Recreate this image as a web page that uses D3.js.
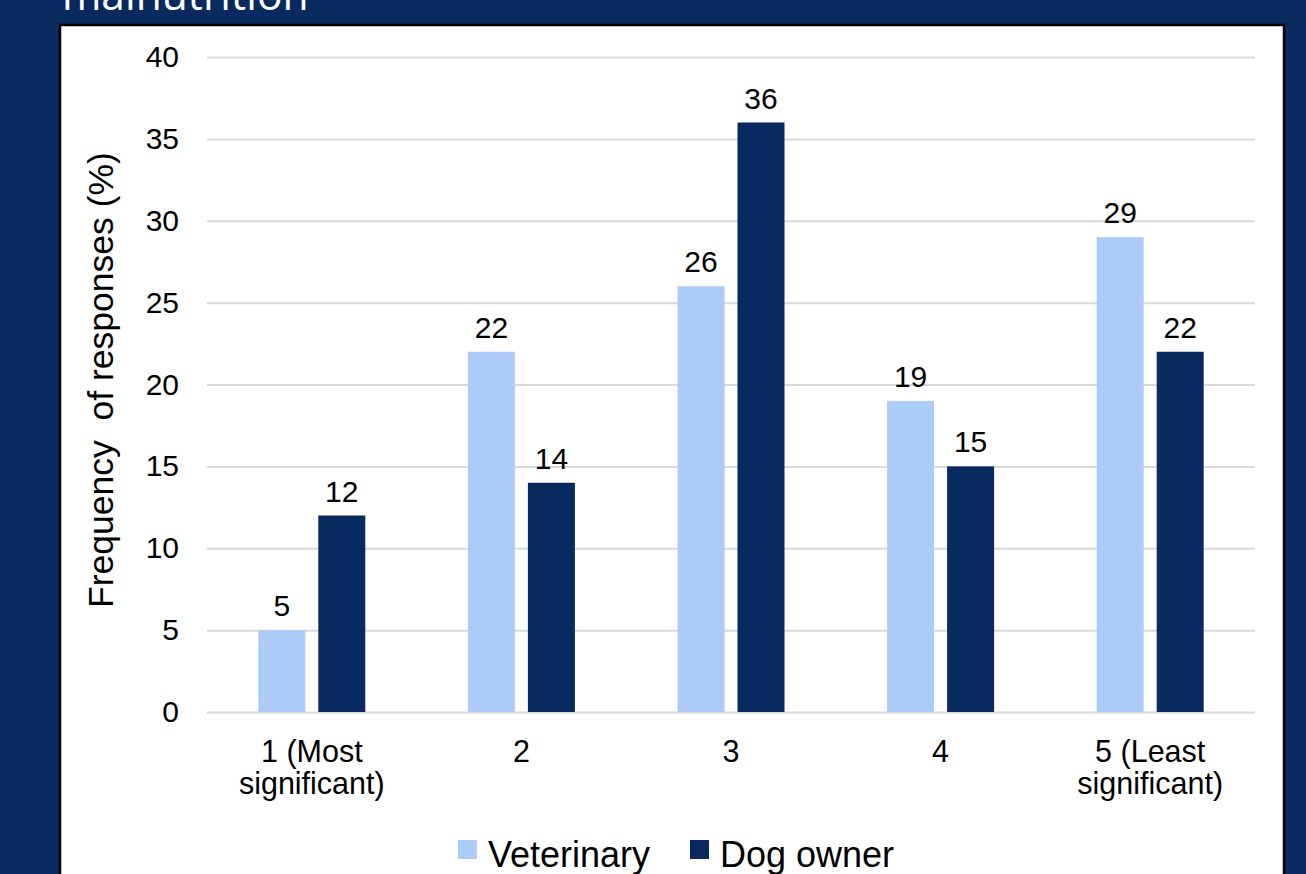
<!DOCTYPE html>
<html>
<head>
<meta charset="utf-8">
<script src="https://cdn.jsdelivr.net/npm/d3@7"></script>
<style>
  html, body { margin: 0; padding: 0; background: #082a5e; }
  svg { display: block; }
</style>
</head>
<body>
<svg id="chart" width="1306" height="874"></svg>
<script>
const categories = ["1 (Most significant)", "2", "3", "4", "5 (Least significant)"];
const categoryLines = [["1 (Most", "significant)"], ["2"], ["3"], ["4"], ["5 (Least", "significant)"]];
const seriesNames = ["Veterinary", "Dog owner"];
const veterinary = [5, 22, 26, 19, 29];
const dogOwner = [12, 14, 36, 15, 22];
const yTicks = [0, 5, 10, 15, 20, 25, 30, 35, 40];
const titleText = "malnutrition";
const yTitle = "Frequency  of responses (%)";

const colors = { "Veterinary": "#adcbf7", "Dog owner": "#082a5e" };
const FONT = "'Liberation Sans', Arial, sans-serif";

const svg = d3.select("#chart");
const W = 1306, H = 874;

svg.append("rect").attr("x", 0).attr("y", 0).attr("width", W).attr("height", H).attr("fill", "#082a5e");

// Slide title (cut off at top, as in the source slide)
svg.append("text")
  .attr("x", 62).attr("y", 10)
  .attr("fill", "#ffffff")
  .attr("font-family", "'Open Sans', sans-serif")
  .attr("font-size", 42.5)
  .text(titleText);

// Chart panel
svg.append("rect")
  .attr("x", 60).attr("y", 25).attr("width", 1224).attr("height", 900)
  .attr("fill", "#ffffff").attr("stroke", "#000000").attr("stroke-width", 2.5);

const plot = { left: 207, right: 1255, top: 57, bottom: 712 };

const x0 = d3.scaleBand().domain(categories).range([plot.left, plot.right]).paddingInner(0).paddingOuter(0);
const groupW = 107;
const x1 = d3.scaleBand().domain(seriesNames).range([0, groupW]).paddingInner(2 - groupW / 60).paddingOuter(0);
const y = d3.scaleLinear().domain([0, 40]).range([plot.bottom, plot.top]);

// Gridlines + tick labels
const yAxis = d3.axisLeft(y).tickValues(yTicks).tickSize(-(plot.right - plot.left)).tickPadding(28).tickFormat(d3.format("d"));
const gy = svg.append("g").attr("transform", `translate(${plot.left},0)`).call(yAxis);
gy.select(".domain").remove();
gy.selectAll(".tick line").attr("stroke", "#d9d9d9").attr("stroke-width", 2);
gy.selectAll(".tick text").attr("font-family", FONT).attr("font-size", 30).attr("fill", "#000");

// Bars
const data = categories.map((c, i) => ({ cat: c, values: [
  { s: "Veterinary", v: veterinary[i] },
  { s: "Dog owner", v: dogOwner[i] }
]}));

const groups = svg.append("g").selectAll("g").data(data).join("g")
  .attr("transform", d => `translate(${x0(d.cat) + (x0.bandwidth() - groupW) / 2},0)`);

groups.selectAll("rect").data(d => d.values).join("rect")
  .attr("x", d => x1(d.s))
  .attr("y", d => y(d.v))
  .attr("width", x1.bandwidth())
  .attr("height", d => y(0) - y(d.v))
  .attr("fill", d => colors[d.s]);

groups.selectAll("text.lbl").data(d => d.values).join("text")
  .attr("class", "lbl")
  .attr("x", d => x1(d.s) + x1.bandwidth() / 2)
  .attr("y", d => y(d.v) - 14)
  .attr("text-anchor", "middle")
  .attr("font-family", FONT).attr("font-size", 30).attr("fill", "#000")
  .text(d => d.v);

// X labels
const xl = svg.append("g").selectAll("text").data(categories).join("text")
  .attr("x", d => x0(d) + x0.bandwidth() / 2)
  .attr("y", 762)
  .attr("text-anchor", "middle")
  .attr("font-family", FONT).attr("font-size", 30.5).attr("fill", "#000");
xl.each(function(d, i) {
  d3.select(this).selectAll("tspan").data(categoryLines[i]).join("tspan")
    .attr("x", x0(d) + x0.bandwidth() / 2)
    .attr("dy", (t, j) => j === 0 ? 0 : 32)
    .text(t => t);
});

// Y title
svg.append("text")
  .attr("transform", `translate(113,380) rotate(-90)`)
  .attr("text-anchor", "middle")
  .attr("font-family", FONT).attr("font-size", 35.5).attr("fill", "#000")
  .style("white-space", "pre")
  .text(yTitle);

// Legend
const legend = svg.append("g");
const items = legend.selectAll("g").data(seriesNames).join("g");
items.append("rect").attr("width", 19).attr("height", 19).attr("y", 840).attr("fill", d => colors[d]);
items.append("text").attr("y", 867).attr("font-family", FONT).attr("font-size", 36).attr("fill", "#000").text(d => d);
const widths = [];
items.select("text").each(function() { widths.push(this.getComputedTextLength()); });
const total = widths.reduce((a, w) => a + 19 + 11 + w, 0) + 40 * (seriesNames.length - 1);
let cx = 676 - total / 2;
items.each(function(d, i) {
  const g = d3.select(this);
  g.select("rect").attr("x", cx);
  g.select("text").attr("x", cx + 30);
  cx += 30 + widths[i] + 40;
});
</script>
</body>
</html>
